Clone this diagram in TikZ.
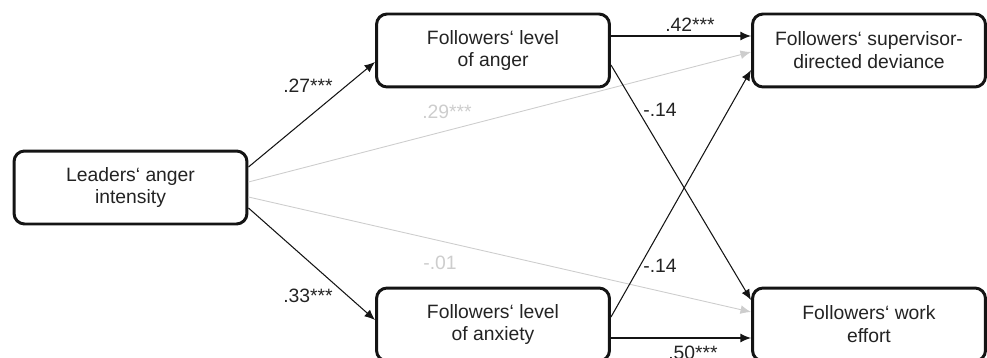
\documentclass[tikz,border=0pt]{standalone}
\usepackage{fontspec}
\setmainfont{Liberation Sans}
\usepackage{tikz}
\usetikzlibrary{arrows.meta,positioning}
\definecolor{PathBlack}{RGB}{20,20,20}
\definecolor{PathGray} {RGB}{205,205,205}
\definecolor{TextGray} {RGB}{35,35,35}

\begin{document}
\begin{tikzpicture}[
  x=0.02cm, y=-0.02cm,
  var/.style  = {draw=PathBlack, line width=1.7pt, rounded corners=6pt,
                 minimum width=4.66cm, minimum height=1.46cm,
                 align=center, text=TextGray, font=\fontsize{11}{13}\selectfont},
  coef/.style = {text=TextGray, font=\fontsize{11}{13}\selectfont, inner sep=1pt},
  ns/.style   = {coef, text=PathGray},
  arr/.style  = {-{Latex[length=6pt,width=5pt]}, line width=0.6pt, PathBlack},
  arrns/.style= {-{Latex[length=6pt,width=5pt]}, line width=0.5pt, PathGray}
]
\useasboundingbox (0,0) rectangle (987,358);
% variables
\node[var] (lead) at (130.5,187.5) {Leaders‘ anger\\intensity};
\node[var] (anger) at (493,50.5) {Followers‘ level\\of anger};
\node[var] (anx) at (493,324.5) {Followers‘ level\\of anxiety};
\node[var] (dev) at (869,50.5) {Followers‘ supervisor-\\directed deviance};
\node[var] (eff) at (869,324.5) {Followers‘ work\\effort};
% paths
\draw[arr] ([yshift=0.41cm]lead.east) -- ([yshift=-0.23cm]anger.west);
\draw[arr] ([yshift=-0.41cm]lead.east) -- ([yshift=0.09cm]anx.west);
\draw[arrns] ([yshift=0.11cm]lead.east) -- ([yshift=-0.03cm]dev.west);
\draw[arrns] ([yshift=-0.19cm]lead.east) -- ([yshift=0.25cm]eff.west);
\draw[arr] ([yshift=0.29cm]anger.east) -- ([yshift=0.29cm]dev.west);
\draw[arr] ([yshift=-0.29cm]anger.east) -- ([yshift=0.49cm]eff.west);
\draw[arr] ([yshift=0.15cm]anx.east) -- ([yshift=-0.39cm]dev.west);
\draw[arr] ([yshift=-0.27cm]anx.east) -- ([yshift=-0.27cm]eff.west);
% coefficients
\node[coef] (c27) at (308,86) {.27***};
\node[coef] (c33) at (308,296) {.33***};
\node[ns] (c29) at (447,112) {.29***};
\node[ns] (c01) at (440,263) {-.01};
\node[coef] (c42) at (690,25) {.42***};
\node[coef] (c14a) at (660,110) {-.14};
\node[coef] (c14b) at (660,266) {-.14};
\node[coef] (c50) at (693,353) {.50***};
\end{tikzpicture}
\end{document}
